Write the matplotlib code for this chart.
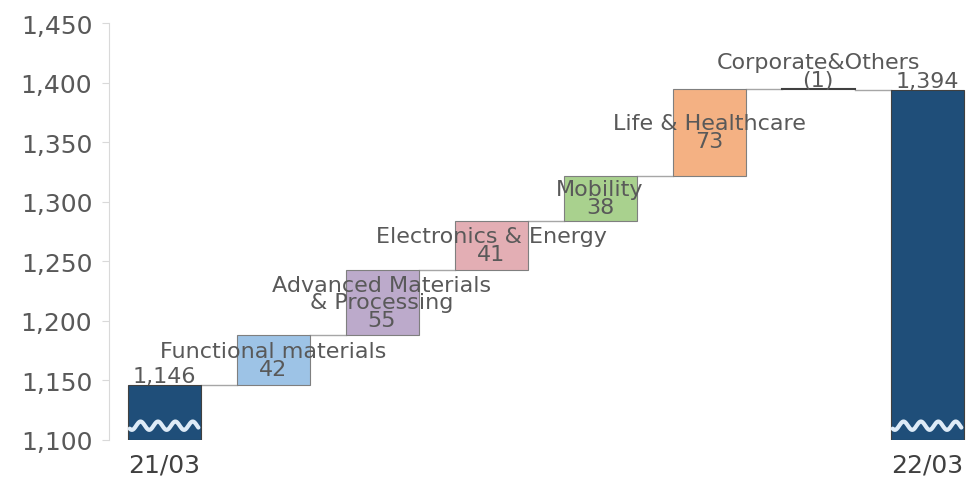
import matplotlib
matplotlib.use('Agg')
import matplotlib.pyplot as plt
import numpy as np

# Data
categories = ['21/03', 'Functional materials', 'Advanced Materials\n& Processing',
              'Electronics & Energy', 'Mobility', 'Life & Healthcare',
              'Corporate&Others', '22/03']
start_value = 1146
changes = [42, 55, 41, 38, 73, -1]
end_value = 1394
change_labels = ['42', '55', '41', '38', '73', '(1)']

colors = ['#1f4e79', '#9dc3e6', '#bcaacb', '#e3aeb4', '#a9d18e', '#f4b183', '#595959', '#1f4e79']
text_color = '#595959'
plt.rcParams['font.family'] = ['DejaVu Sans']

fig = plt.figure(figsize=(9.68, 4.81), dpi=100)
ax = fig.add_axes([0.1126, 0.0832, 0.8874, 0.8668])

width = 0.67
x = np.arange(len(categories))

# cumulative levels
levels = [start_value]
for c in changes:
    levels.append(levels[-1] + c)

ymin = 1100
# end bars
ax.bar(x[0], start_value - ymin, bottom=ymin, width=width, color=colors[0],
       edgecolor='#404040', linewidth=0.8, zorder=2)
ax.bar(x[-1], end_value - ymin, bottom=ymin, width=width, color=colors[-1],
       edgecolor='#404040', linewidth=0.8, zorder=2)

# floating bars
for i, c in enumerate(changes):
    lo = min(levels[i], levels[i + 1])
    h = abs(c)
    if h <= 1:
        ax.plot([x[i + 1] - width / 2, x[i + 1] + width / 2], [levels[i], levels[i]],
                color='#404040', linewidth=1.5, zorder=3)
    else:
        ax.bar(x[i + 1], h, bottom=lo, width=width, color=colors[i + 1],
               edgecolor='#7f7f7f', linewidth=0.8, zorder=2)

# connectors
for i in range(len(levels)):
    ax.plot([x[i] + width / 2, x[i + 1] - width / 2], [levels[i], levels[i]],
            color='#a6a6a6', linewidth=1.0, zorder=1)

# wavy break marks on end bars
for xi in (x[0], x[-1]):
    t = np.linspace(-width / 2 + 0.02, width / 2 - 0.02, 200)
    ax.plot(xi + t, 1112 + 3.5 * np.sin((t + width / 2) * 2 * np.pi * 4.2 / width + np.pi),
            color='#deebf7', linewidth=3, zorder=4, solid_capstyle='round')

# labels
fs = 16
ls = 0.85
ax.text(x[0], start_value - 1, '1,146', ha='center', va='bottom', fontsize=fs, color=text_color, zorder=5)
ax.text(x[-1], end_value - 1, '1,394', ha='center', va='bottom', fontsize=fs, color=text_color, zorder=5)
for i, c in enumerate(changes):
    mid = (levels[i] + levels[i + 1]) / 2
    if abs(c) <= 1:
        ax.text(x[i + 1], levels[i] - 1, categories[i + 1] + '\n' + change_labels[i],
                ha='center', va='bottom', fontsize=fs, color=text_color, zorder=5,
                linespacing=ls)
    else:
        ax.text(x[i + 1], mid, categories[i + 1] + '\n' + change_labels[i],
                ha='center', va='center', fontsize=fs, color=text_color, zorder=5,
                linespacing=ls)

ax.set_xlim(-0.505, 7.376)
ax.set_ylim(1100, 1450)
ax.set_yticks(np.arange(1100, 1451, 50))
ax.set_yticklabels([f'{v:,}' for v in range(1100, 1451, 50)])
ax.set_xticks([x[0], x[-1]])
ax.set_xticklabels(['21/03', '22/03'])
ax.tick_params(axis='y', colors='#d9d9d9', labelcolor=text_color, labelsize=18, length=5, pad=7)
ax.tick_params(axis='x', length=0, labelcolor='#404040', labelsize=18, pad=9)
for s in ['top', 'right', 'bottom']:
    ax.spines[s].set_visible(False)
ax.spines['left'].set_color('#d9d9d9')

fig.savefig('out.png', dpi=100)
